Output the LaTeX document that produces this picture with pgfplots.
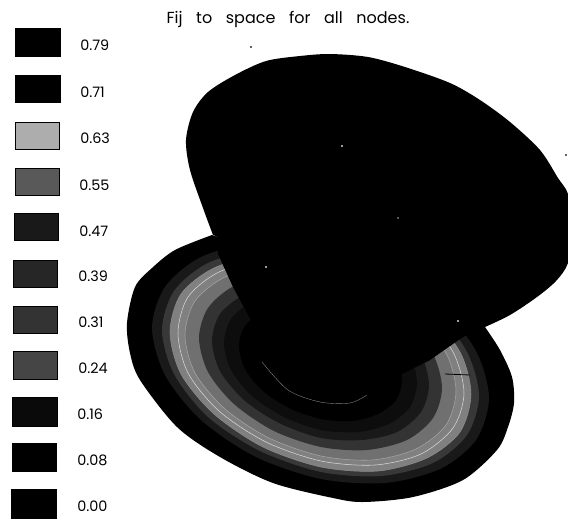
\documentclass[border=0pt]{standalone}
\usepackage{fontspec}
\setmainfont{Poppins}
\usepackage{pgfplots}
\pgfplotsset{compat=1.18}

\pgfplotsset{
  swatch/.style={fill=#1,draw=black,line width=0.6pt},
  band/.style={fill=#1,draw=none,smooth cycle},
  seam/.style={draw=#1,line width=0.4pt,smooth cycle},
}
\newcommand{\leglabel}[3]{\node[anchor=west,font=\fontsize{10.8}{12}\selectfont,inner sep=0pt] at (axis cs:#1,#2) {#3};}

\begin{document}
\begin{tikzpicture}
\begin{axis}[
    width=426pt, height=389.25pt, scale only axis,
    xmin=0, xmax=568, ymin=0, ymax=519,
    y dir=reverse,
    axis lines=none,
    no markers,
    clip=true,
]
% keeps the page as large as the reference
\addplot[draw=none] coordinates {(0,0) (568,519)};

% legend swatches
\addplot[swatch=black] coordinates {(15,28) (60,28) (60,56) (15,56)} --cycle;
\addplot[swatch=black] coordinates {(15,75) (60,75) (60,102) (15,102)} --cycle;
\addplot[swatch={black!32}] coordinates {(15,122) (59,122) (59,149) (15,149)} --cycle;
\addplot[swatch={black!65}] coordinates {(15,168) (59,168) (59,195) (15,195)} --cycle;
\addplot[swatch={black!90}] coordinates {(14,213) (58,213) (58,240) (14,240)} --cycle;
\addplot[swatch={black!85}] coordinates {(13,260) (57,260) (57,287) (13,287)} --cycle;
\addplot[swatch={black!80}] coordinates {(13,306) (57,306) (57,333) (13,333)} --cycle;
\addplot[swatch={black!73}] coordinates {(13,351) (57,351) (57,379) (13,379)} --cycle;
\addplot[swatch={black!96}] coordinates {(12,397) (57,397) (57,426) (12,426)} --cycle;
\addplot[swatch=black] coordinates {(12,443) (56,443) (56,471) (12,471)} --cycle;
\addplot[swatch=black] coordinates {(11,489) (56,489) (56,518) (11,518)} --cycle;

% lower disk, outermost contour (the chord that closes it stays under the upper surface)
\addplot[fill=black,draw=none,smooth] coordinates {
  (212,235) (175,250) (152,268) (135,287) (127,323) (130,353) (140,380) (177,427)
  (220,457) (273,483) (333,498) (363,502) (413,497) (463,480) (497,450) (508,427)
  (514,403) (512,377) (500,350) (485,327)
};

% contour bands, outer to inner
\addplot[band={black!90}] coordinates {(489,398) (476,440) (440,469) (385,483) (321,479) (256,457) (201,420) (165,375) (152,328) (165,287) (201,257) (256,243) (321,247) (385,269) (440,306) (476,351)};
\addplot[band={black!78}] coordinates {(479,396) (467,435) (433,463) (381,476) (321,472) (260,451) (208,417) (174,374) (162,330) (174,291) (208,263) (260,250) (321,254) (381,275) (433,309) (467,352)};
\addplot[band={black!50}] coordinates {(471,394) (460,432) (427,458) (378,471) (321,467) (263,447) (214,414) (181,374) (170,332) (181,294) (214,268) (263,255) (321,259) (378,279) (427,312) (460,352)};
\addplot[band={black!56}] coordinates {(456,391) (446,425) (416,449) (372,460) (321,456) (269,438) (225,409) (195,373) (185,335) (195,301) (225,277) (269,266) (321,270) (372,288) (416,317) (446,353)};
\addplot[band={black!80}] coordinates {(442,388) (433,418) (407,440) (367,450) (321,447) (274,431) (234,404) (208,372) (199,338) (208,308) (234,286) (274,276) (321,279) (367,295) (407,322) (433,354)};
\addplot[band={black!90}] coordinates {(429,385) (421,412) (397,432) (362,440) (321,438) (279,423) (244,400) (220,371) (212,341) (220,314) (244,295) (279,286) (321,289) (362,303) (397,326) (421,355)};
\addplot[band={black!95}] coordinates {(417,383) (410,407) (389,424) (358,432) (321,430) (284,417) (252,396) (231,370) (224,343) (231,319) (252,302) (284,294) (321,297) (358,309) (389,330) (410,356)};
\addplot[band=black] coordinates {(402,380) (396,400) (378,414) (352,421) (321,419) (289,408) (263,391) (245,369) (239,346) (245,326) (263,312) (289,305) (321,307) (352,318) (378,335) (396,357)};

% pale seams between the lightest bands
\addplot[seam={white!85!black}] coordinates {(464,393) (453,428) (421,454) (375,465) (321,461) (266,442) (219,411) (188,373) (178,333) (188,297) (219,272) (266,260) (321,264) (375,283) (421,314) (453,352)};
\addplot[seam={white!65!black}] coordinates {(456,391) (446,425) (416,449) (372,460) (321,456) (269,438) (225,409) (195,373) (185,335) (195,301) (225,277) (269,266) (321,270) (372,288) (416,317) (446,353)};
\addplot[seam={white!55!black}] coordinates {(471,394) (460,432) (427,458) (378,471) (321,467) (263,447) (214,414) (181,374) (170,332) (181,294) (214,268) (263,255) (321,259) (378,279) (427,312) (460,352)};
\addplot[black,line width=0.6pt] coordinates {(445,374) (470,375)};

% upper surface: its outline, then the part that reaches down over the disk
\addplot[fill=black,draw=none,smooth] coordinates {
  (213,235) (203,208) (190,170) (186,140) (193,112) (208,92) (235,75) (266,61)
  (300,56) (330,54) (368,57) (405,67) (450,83) (480,100) (510,122) (540,150)
  (558,178) (568,194) (574,228) (568,263) (556,281) (537,297) (510,315) (485,327)
};
\addplot[fill=black,draw=none] coordinates {
  (216,232) (300,150) (420,180) (487,325) (463,337) (440,353) (430,360) (400,375)
  (380,378) (330,385) (290,370) (262,340) (240,300) (233,287) (218,254)
} --cycle;

% faint arc left in the black centre
\addplot[white!50!black,line width=0.3pt,smooth] coordinates {(262,362) (288,390) (320,402) (350,403) (367,395)};

% loose specks
\addplot[only marks,mark=*,mark size=0.45pt,white] coordinates {(342,146) (458,321) (266,267)};
\addplot[only marks,mark=*,mark size=0.3pt,white!60!black] coordinates {(398,218)};
\addplot[only marks,mark=*,mark size=0.45pt,black] coordinates {(251,47) (566,155)};

\node[anchor=center,font=\fontsize{12}{14}\selectfont,inner sep=0pt] at (axis cs:288,19)
  {Fij\hspace{0.85em}to\hspace{0.85em}space\hspace{0.85em}for\hspace{0.85em}all\hspace{0.85em}nodes.};

\leglabel{80}{45}{0.79}
\leglabel{80}{92}{0.71}
\leglabel{80}{138}{0.63}
\leglabel{79}{185}{0.55}
\leglabel{79}{231}{0.47}
\leglabel{78}{276}{0.39}
\leglabel{78}{322}{0.31}
\leglabel{78}{368}{0.24}
\leglabel{77}{414}{0.16}
\leglabel{77}{460}{0.08}
\leglabel{77}{506}{0.00}
\end{axis}
\end{tikzpicture}
\end{document}
